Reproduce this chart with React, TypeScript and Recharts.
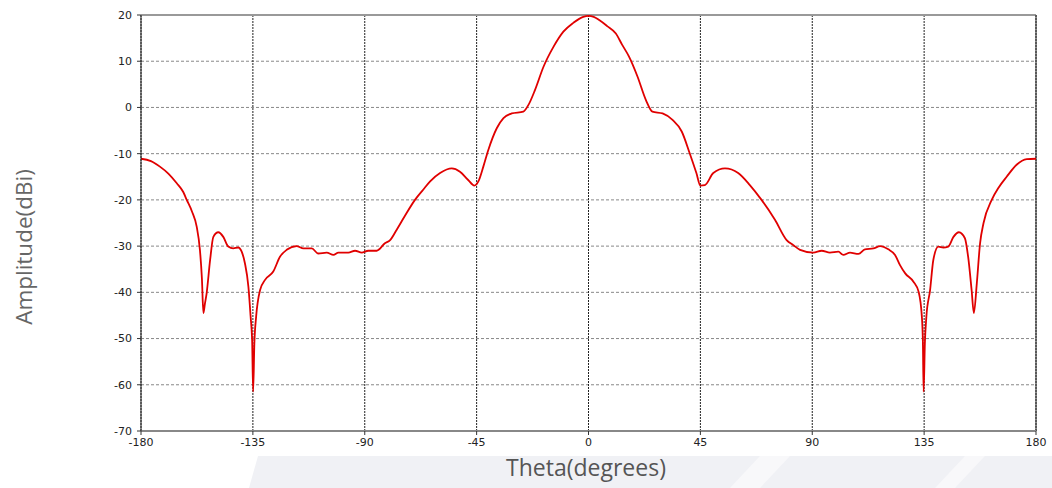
import { LineChart, Line, XAxis, YAxis, CartesianGrid, ReferenceLine } from "recharts";

// Far-field cut, amplitude (dBi) against theta (degrees)
const THETA = [
  -180, -176, -172.4, -169, -165.6, -163, -161.6, -159.5, -157.6, -156.3, -155.5, -154.9, -154.3, -153.6,
  -152.2, -150.9, -148.9, -146.9, -144.9, -142.9, -140.9, -139.5, -138.2, -136.8, -135.9, -135.3, -134.9,
  -134.4, -133.7, -132.1, -130.1, -126.8, -124.1, -121.4, -117.4, -114.7, -111.3, -108.7, -105.3, -102.6,
  -100.6, -96.6, -93.9, -91.2, -88.6, -85.2, -81.9, -79.8, -77.2, -74, -69.8, -66.5, -63.7, -59.7, -55,
  -51.7, -48.4, -45.9, -44.3, -42.3, -40.3, -36.9, -34.2, -30.9, -26.2, -24.2, -21.5, -18.1, -14.1, -10.1,
  -6.1, -2.1, 0,
  2.1, 4.3, 7.5, 11, 13.5, 16.3, 19.7, 23.1, 25.7, 29.8, 33.8, 37.5, 40.7, 43.4, 45, 46.8, 50.2, 54.9, 60.2,
  64.9, 69.6, 75, 79.7, 82.4, 85.1, 90.4, 93.8, 97.1, 100.5, 102.5, 105.2, 108.6, 111.2, 114.6, 117.3, 120.6,
  123.3, 125.3, 127.4, 130.7, 132.8, 134.1, 134.5, 134.8, 135.3, 135.9, 137.4, 138.7, 140.7, 142.7, 144.7,
  146.8, 149, 151.4, 152.7, 154.1, 155, 156.2, 157.5, 158.9, 162.2, 165, 168.2, 172.2, 176.3, 180,
];

const AMPLITUDE = [
  -11.1, -11.6, -12.8, -14.3, -16.4, -18.3, -20, -22.5, -25.8, -30.8, -37, -44.5, -42.5, -40.2,
  -33, -28, -27, -28, -30.1, -30.5, -30.3, -31.2, -33.7, -38.8, -45.3, -50.3, -61.5,
  -51, -45.3, -39.5, -37.3, -35.5, -32.3, -30.8, -30, -30.5, -30.5, -31.6, -31.4, -31.9,
  -31.4, -31.4, -31, -31.4, -31, -31, -29.4, -28.7, -26.5, -23.6, -20, -17.8, -16, -14.2, -13.2,
  -13.9, -15.7, -16.9, -16, -12.8, -9.2, -4.5, -2.3, -1.3, -0.9, 0.5, 3.8, 8.8, 13.1, 16.4,
  18.3, 19.6, 19.8,
  19.6, 18.9, 17.6, 16, 13.6, 11, 6.7, 1.6, -0.9, -1.3, -2.7, -5.2, -9.9, -14.2, -16.9, -16.8, -14.2, -13.2, -14.2,
  -16.8, -20, -24.3, -28.7, -29.8, -30.8, -31.4, -31, -31.4, -31.2, -31.9, -31.4, -31.7, -30.7, -30.5, -30, -30.7,
  -31.9, -34.1, -35.9, -37.7, -39.9, -45.3, -50.7, -61.5, -51, -45.3, -39.5, -33, -30.1, -30.3, -30.1,
  -28, -27, -28.3, -32.3, -39.5, -44.5, -38, -29.4, -25, -20, -17.3, -15, -12.4, -11.2, -11.1,
];

const X_TICKS = [-180, -135, -90, -45, 0, 45, 90, 135, 180];
const Y_TICKS = [20, 10, 0, -10, -20, -30, -40, -50, -60, -70];

const data = THETA.map((t, i) => ({ theta: t, amp: AMPLITUDE[i] }));

const tickStyle = { fontSize: 11, fill: "#222", fontFamily: "DejaVu Sans, Verdana, sans-serif" };

export default function App() {
  return (
    <div style={{ position: "absolute", left: 0, top: 0, width: 1052, height: 488, background: "#fff", overflow: "hidden" }}>
      {/* faint watermark band at the bottom */}
      <svg width={1052} height={488} style={{ position: "absolute", left: 0, top: 0 }}>
        <polygon points="258,456 1052,456 1052,488 249,488" fill="#f0f1f5" />
        <polygon points="760,456 790,456 760,488 730,488" fill="#f8f8fa" />
        <polygon points="965,456 985,456 955,488 935,488" fill="#f8f8fa" />
      </svg>
      <div style={{ position: "absolute", left: 0, top: 0 }}>
        <LineChart width={1052} height={488} data={data} margin={{ top: 15, right: 16, bottom: 27, left: 0 }}>
          <CartesianGrid horizontal vertical={false} stroke="#888" strokeDasharray="3 2" />
          <CartesianGrid horizontal={false} vertical stroke="#222" strokeDasharray="2 1" />
          <XAxis
            dataKey="theta"
            type="number"
            domain={[-180, 180]}
            ticks={X_TICKS}
            height={30}
            tick={tickStyle}
            tickSize={4}
            tickMargin={3}
            axisLine={{ stroke: "#888", strokeWidth: 2 }}
            tickLine={{ stroke: "#333" }}
          />
          <YAxis
            type="number"
            domain={[-70, 20]}
            ticks={Y_TICKS}
            width={141}
            tick={tickStyle}
            tickSize={4}
            tickMargin={5}
            axisLine={{ stroke: "#222" }}
            tickLine={{ stroke: "#333" }}
          />
          <ReferenceLine y={20} stroke="#999" strokeWidth={2} />
          <ReferenceLine x={180} stroke="#222" strokeWidth={1} />
          <Line
            type="monotone"
            dataKey="amp"
            stroke="#e00000"
            strokeWidth={1.8}
            dot={false}
            isAnimationActive={false}
          />
        </LineChart>
      </div>
      <div
        style={{
          position: "absolute",
          left: 23,
          top: 247,
          transform: "translate(-50%, -50%) rotate(-90deg)",
          fontFamily: "Open Sans, sans-serif",
          fontSize: 22.5,
          color: "#666",
          whiteSpace: "nowrap",
        }}
      >
        Amplitude(dBi)
      </div>
      <div
        style={{
          position: "absolute",
          left: 586,
          top: 467,
          transform: "translate(-50%, -50%)",
          fontFamily: "Open Sans, sans-serif",
          fontSize: 23,
          color: "#555",
          whiteSpace: "nowrap",
        }}
      >
        Theta(degrees)
      </div>
    </div>
  );
}
